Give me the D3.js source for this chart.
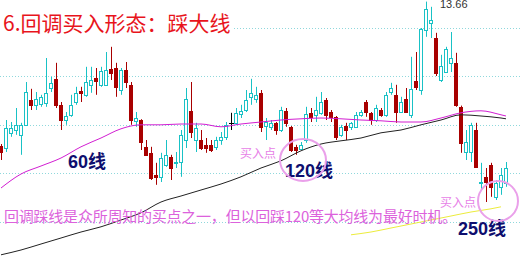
<!DOCTYPE html>
<html>
<head>
<meta charset="utf-8">
<title>回调买入形态：踩大线</title>
<script src="https://d3js.org/d3.v7.min.js"></script>
<style>
  body { margin: 0; background: #fff; }
  svg { display: block; }
</style>
</head>
<body>
<svg width="521" height="265"></svg>
<script>
  // daily bars, oldest first (prices)
  const open = [10.05,10.00,10.38,10.45,10.33,10.58,11.20,11.08,11.10,11.13,
                11.50,11.73,11.08,10.70,10.83,11.15,11.43,11.33,11.58,11.75,
                11.58,11.58,11.98,12.00,11.45,11.95,11.58,10.68,10.70,10.03,
                9.88,9.33,9.28,9.58,9.78,9.63,9.65,10.20,10.93,10.20,
                10.20,10.08,10.08,10.03,10.20,10.28,10.63,10.63,10.85,10.95,
                11.28,11.23,11.38,10.55,10.53,10.63,10.45,10.93,10.53,10.03,
                9.98,10.20,10.88,10.83,10.88,11.20,10.90,10.78,10.33,10.55,
                10.53,10.53,10.83,11.15,10.88,10.70,10.95,10.83,11.40,11.33,
                10.90,11.23,10.83,11.68,11.45,12.95,13.13,12.75,11.70,11.90,
                12.13,12.13,11.03,9.90,9.90,10.45,9.13,9.28,9.58,8.78,
                9.03,9.13];
  const high = [10.10,10.70,10.65,11.00,10.63,11.65,11.48,11.40,11.33,12.25,
                11.78,12.13,11.15,10.90,11.33,11.53,11.53,12.03,12.03,12.00,
                12.03,12.40,12.53,12.13,12.00,12.15,11.65,10.90,10.72,10.20,
                10.03,9.63,9.88,10.20,9.83,9.90,10.45,11.50,11.65,10.63,
                10.45,10.25,10.20,10.28,10.40,10.65,10.88,11.00,11.08,11.45,
                11.73,11.53,11.45,10.75,10.70,10.65,11.03,11.00,10.55,10.08,
                10.15,11.03,11.00,11.28,11.40,11.25,10.95,10.80,10.58,10.63,
                10.65,10.90,10.95,11.20,10.90,11.08,11.00,11.40,11.63,11.58,
                11.28,11.50,12.28,12.40,13.00,13.66,13.53,12.88,12.33,12.53,
                12.90,12.38,11.06,10.45,10.63,10.63,9.63,9.50,9.63,9.20,
                9.50,9.65];
  const low = [9.70,9.90,10.28,10.33,9.83,10.55,10.95,10.95,11.03,11.03,
               11.40,11.00,10.45,10.58,10.78,11.08,11.15,11.28,11.38,11.33,
               11.53,11.55,11.70,11.28,11.33,11.50,10.58,10.53,9.95,9.80,
               9.20,9.08,9.15,9.53,9.20,9.50,9.28,10.00,10.25,9.90,
               9.95,9.88,9.90,9.95,10.08,10.20,10.45,10.58,10.75,10.90,
               11.08,11.13,10.40,10.20,10.45,10.33,10.40,10.53,9.90,9.83,
               9.95,10.13,10.65,10.65,10.83,10.70,10.65,10.20,10.28,10.20,
               10.45,10.50,10.78,10.78,10.58,10.65,10.78,10.78,11.33,10.63,
               10.88,10.88,10.75,11.45,11.33,12.78,12.75,11.80,11.65,11.88,
               11.90,11.03,9.88,9.70,9.65,9.50,8.95,8.65,8.78,8.70,
               8.83,9.03];
  const close = [9.90,10.50,10.50,10.58,10.58,11.40,11.08,11.23,11.28,11.38,
                 11.63,11.08,10.70,10.80,11.08,11.38,11.38,11.65,11.70,11.68,
                 11.93,11.95,11.88,11.53,11.95,11.65,10.70,10.75,10.15,9.83,
                 9.25,9.28,9.75,9.83,9.50,9.65,10.33,11.23,10.40,10.50,
                 10.00,10.00,9.95,10.20,10.28,10.58,10.63,10.88,10.93,11.20,
                 11.38,11.33,10.53,10.65,10.63,10.45,10.95,10.63,9.95,9.95,
                 10.08,10.85,10.78,10.95,11.15,10.83,10.78,10.28,10.53,10.45,
                 10.63,10.83,10.90,10.90,10.70,11.00,10.83,11.33,11.50,10.90,
                 11.15,10.90,11.48,11.53,12.98,13.48,13.20,11.88,12.05,12.48,
                 12.25,11.08,10.13,10.15,10.58,9.53,9.15,9.15,9.03,9.13,
                 9.33,9.50];

  // moving averages, read at every 4th bar
  const maIdx = [0,4,8,12,16,20,24,28,32,36,40,44,48,52,56,60,64,68,72,76,80,84,88,92,96,100,101];
  const ma60 = [9.00,9.35,9.55,9.75,10.03,10.25,10.48,10.58,10.58,10.60,10.60,10.53,10.60,10.65,
                10.70,10.73,10.75,10.73,10.70,10.68,10.65,10.65,10.75,10.88,10.93,10.83,10.80];
  const ma120 = [7.33,7.45,7.60,7.75,7.90,8.03,8.20,8.38,8.65,8.80,8.95,9.10,9.28,9.50,
                 9.68,9.93,10.10,10.18,10.25,10.38,10.45,10.58,10.70,10.83,10.80,10.75,10.73];
  const ma250Idx = [70,74,78,82,86,90,94,98,100];
  const ma250 = [7.83,7.90,8.00,8.10,8.20,8.30,8.40,8.48,8.53];

  const gridPrices = [13.0, 11.79, 10.58, 9.37, 8.15];

  const W = 521, H = 265;
  const svg = d3.select("svg");
  svg.append("rect").attr("width", W).attr("height", H).attr("fill", "#fff");

  const x = d3.scaleBand().domain(d3.range(open.length)).range([-1.5, 508.5]);
  const y = d3.scaleLinear().domain([8.15, 13.0]).range([222, 28]);
  const cx = i => Math.round(x(i) + x.bandwidth() / 2);

  // dotted grid
  svg.append("g").selectAll("line").data(gridPrices).join("line")
    .attr("x1", 0).attr("x2", W)
    .attr("y1", d => Math.round(y(d)) + 0.5).attr("y2", d => Math.round(y(d)) + 0.5)
    .attr("stroke", "#8fd8dc").attr("stroke-dasharray", "1,2");

  // title on a white patch
  svg.append("rect").attr("x", 0).attr("y", 8).attr("width", 232).attr("height", 28).attr("fill", "#fff");
  svg.append("text").attr("x", 3).attr("y", 31)
    .attr("font-family", "'Noto Sans CJK SC', sans-serif").attr("font-size", 21)
    .attr("fill", "#e8141c").text("6.回调买入形态：踩大线");

  // candles
  const bars = d3.range(open.length).map(i => ({i, o: open[i], h: high[i], l: low[i], c: close[i]}));
  const col = d => d.c > d.o ? "#19c2c6" : d.c < d.o ? "#a80000" : "#000";
  const g = svg.append("g");
  g.selectAll(".wick").data(bars).join("line").attr("class", "wick")
    .attr("x1", d => cx(d.i) + 0.5).attr("x2", d => cx(d.i) + 0.5)
    .attr("y1", d => y(d.h)).attr("y2", d => y(d.l))
    .attr("stroke", col);
  g.selectAll(".body").data(bars.filter(d => d.c !== d.o)).join("rect").attr("class", "body")
    .attr("x", d => cx(d.i) - 1.5)
    .attr("y", d => Math.round(y(Math.max(d.o, d.c))) + 0.5)
    .attr("width", 3)
    .attr("height", d => Math.max(1, Math.round(y(Math.min(d.o, d.c)) - y(Math.max(d.o, d.c)))))
    .attr("fill", d => d.c > d.o ? "#fff" : col(d))
    .attr("stroke", col);
  g.selectAll(".doji").data(bars.filter(d => d.c === d.o)).join("line").attr("class", "doji")
    .attr("x1", d => cx(d.i) - 2).attr("x2", d => cx(d.i) + 3)
    .attr("y1", d => Math.round(y(d.o)) + 0.5).attr("y2", d => Math.round(y(d.o)) + 0.5)
    .attr("stroke", "#000");

  // moving average lines
  const maLine = d3.line().x(d => cx(d[0])).y(d => y(d[1])).curve(d3.curveMonotoneX);
  svg.append("path").attr("d", maLine(d3.zip(maIdx, ma120)))
    .attr("fill", "none").attr("stroke", "#222").attr("stroke-width", 1);
  svg.append("path").attr("d", maLine(d3.zip(maIdx, ma60)))
    .attr("fill", "none").attr("stroke", "#d21ed2").attr("stroke-width", 1);
  svg.append("path").attr("d", maLine(d3.zip(ma250Idx, ma250)))
    .attr("fill", "none").attr("stroke", "#ecec3c").attr("stroke-width", 1);

  // highest price label
  const peak = d3.maxIndex(high);
  svg.append("text").attr("x", cx(peak) + 14).attr("y", 7.5)
    .attr("font-family", "'Liberation Sans', Arial, sans-serif").attr("font-size", 11)
    .attr("fill", "#333").text(d3.format(".2f")(high[peak]));

  // annotations
  const lbl = (tx, ty, s) => svg.append("text").attr("x", tx).attr("y", ty)
    .attr("font-family", "'Liberation Sans', 'Noto Sans CJK SC', sans-serif")
    .attr("font-size", 18).attr("font-weight", "bold").attr("fill", "#0e0e6e").text(s);
  lbl(68, 168, "60线");
  lbl(285, 177, "120线");
  lbl(458, 235, "250线");

  const pink = "#e77ee7";
  svg.append("ellipse").attr("cx", 303).attr("cy", 160).attr("rx", 23).attr("ry", 21)
    .attr("fill", "none").attr("stroke", "#eaa0ea").attr("stroke-width", 2);
  svg.append("circle").attr("cx", 498).attr("cy", 201).attr("r", 20)
    .attr("fill", "none").attr("stroke", "#eaa0ea").attr("stroke-width", 2);

  const small = (tx, ty) => svg.append("text").attr("x", tx).attr("y", ty)
    .attr("font-family", "'Noto Sans CJK SC', sans-serif").attr("font-size", 12)
    .attr("fill", pink).text("买入点");
  small(240, 158);
  small(440, 207);

  svg.append("text").attr("x", 4).attr("y", 222)
    .attr("font-family", "'Noto Sans CJK SC', sans-serif").attr("font-size", 15)
    .attr("textLength", 453).attr("lengthAdjust", "spacing")
    .attr("fill", "#dc62dc").text("回调踩线是众所周知的买点之一，但以回踩120等大均线为最好时机。");
</script>
</body>
</html>
